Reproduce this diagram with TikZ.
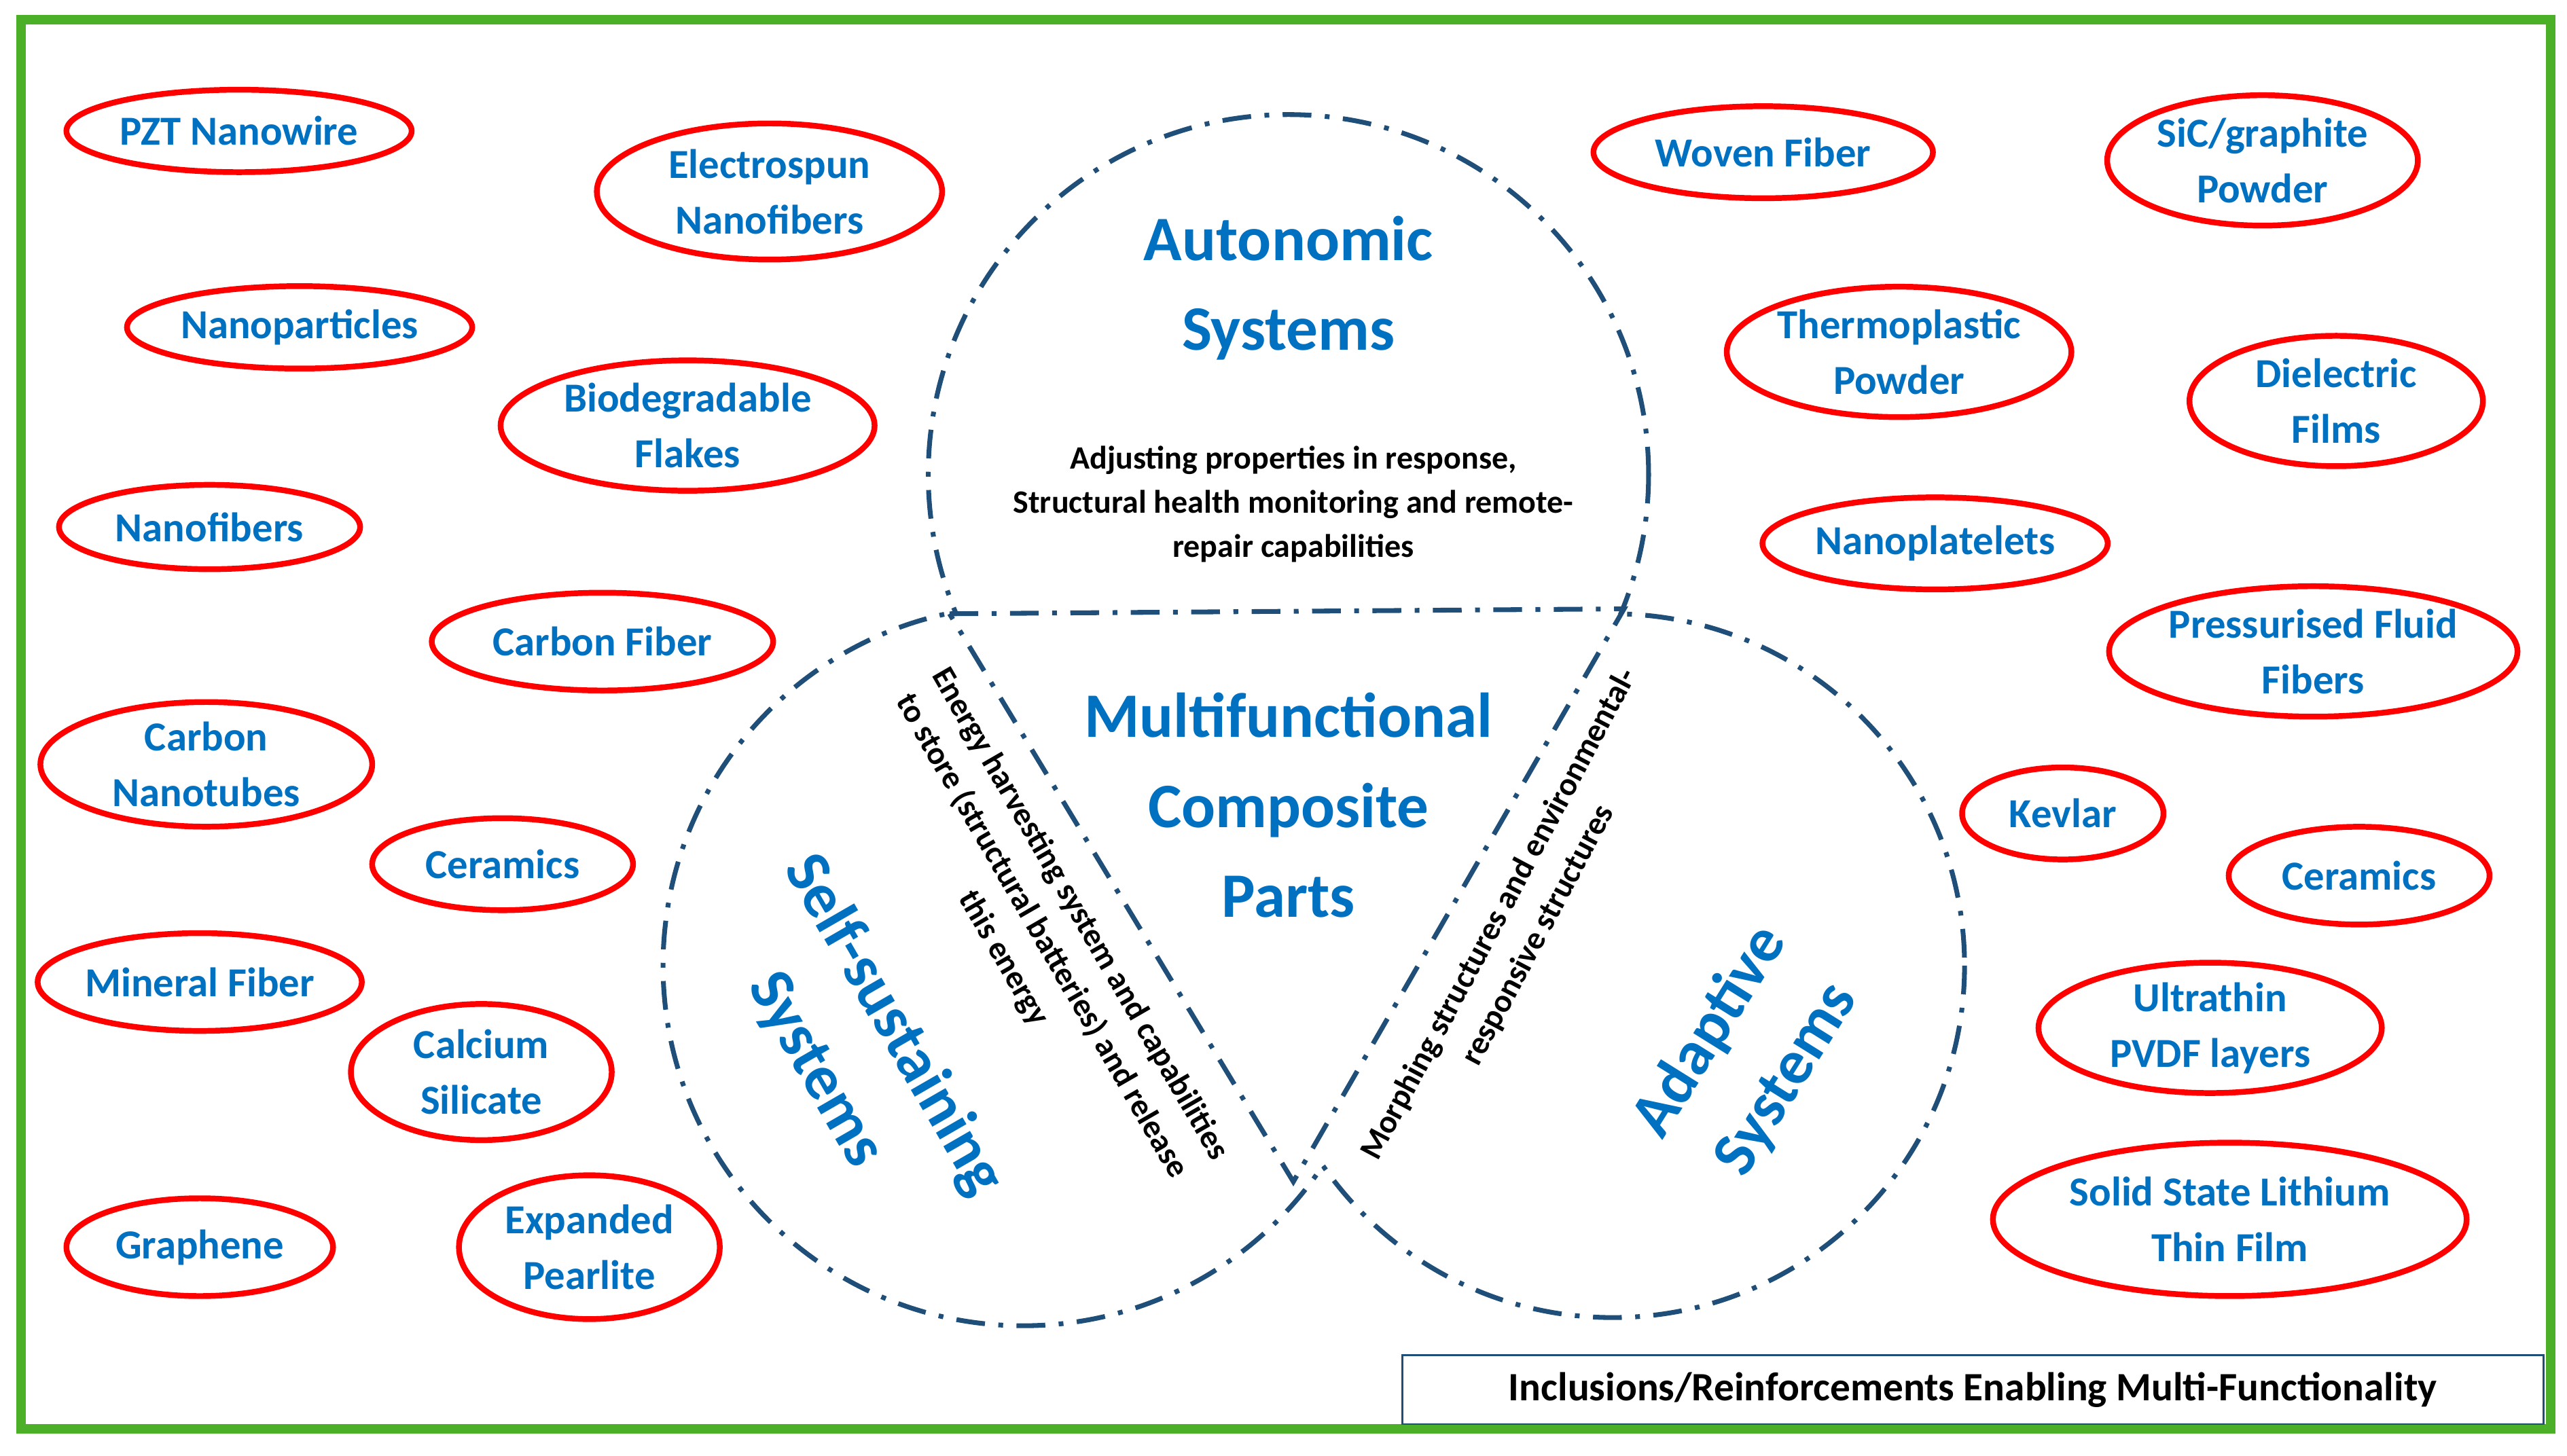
\documentclass[tikz,border=0pt]{standalone}
\usepackage{fontspec}
\setmainfont{Carlito}
\usetikzlibrary{shapes.geometric}
\definecolor{tblue}{RGB}{0,112,192}
\definecolor{dblue}{RGB}{31,78,121}
\definecolor{gborder}{RGB}{76,175,40}
\begin{document}
\begin{tikzpicture}[x=0.03cm,y=-0.03cm,
 inc/.style={draw=red,line width=3pt,ellipse,inner sep=0pt,text=tblue,font=\bfseries\fontsize{21.5}{29}\selectfont,align=center},
 venn/.style={draw=dblue,line width=2.5pt,dash pattern=on 15pt off 7pt on 2.5pt off 7pt},
 big/.style={text=tblue,font=\bfseries\fontsize{33}{47}\selectfont,align=center},
 small/.style={text=black,font=\bfseries\fontsize{17}{23}\selectfont,align=center}]
\useasboundingbox (0,0) rectangle (1568,889.2);
\draw[gborder,line width=5pt] (13,12) rectangle (1558,873);
% venn outer arcs
\begin{scope}[even odd rule]
 \clip (0,0) rectangle (1568,889) (625,590) circle[radius=220];
 \begin{scope}[even odd rule]
 \clip (0,0) rectangle (1568,889) (985,590) circle[radius=215];
 \draw[venn] (787,290) circle[radius=220];
 \end{scope}
\end{scope}
\begin{scope}[even odd rule]
 \clip (0,0) rectangle (1568,889) (787,290) circle[radius=220];
 \begin{scope}[even odd rule]
 \clip (0,0) rectangle (1568,889) (985,590) circle[radius=215];
 \draw[venn] (625,590) circle[radius=220];
 \end{scope}
\end{scope}
\begin{scope}[even odd rule]
 \clip (0,0) rectangle (1568,889) (787,290) circle[radius=220];
 \begin{scope}[even odd rule]
 \clip (0,0) rectangle (1568,889) (625,590) circle[radius=220];
 \draw[venn] (985,590) circle[radius=215];
 \end{scope}
\end{scope}
\coordinate (t1) at (580,375);
\coordinate (t2) at (992,372);
\coordinate (t3) at (790,722);
\draw[venn] (t1) -- (t2) -- (t3) -- cycle;
% texts
\node[big] (auto) at (787,176) {Autonomic\\Systems};
\node[small] (autot) at (790,308) {Adjusting properties in response,\\Structural health monitoring and remote-\\repair capabilities};
\node[big] (multi) at (787,492) {Multifunctional\\Composite\\Parts};
\node[big,rotate=-60] (self) at (522,640) {Self-sustaining\\Systems};
\node[small,rotate=-60] (selft) at (636,572) {Energy harvesting system and capabilities\\to store (structural batteries) and release\\this energy};
\node[big,rotate=58] (adapt) at (1068,645) {Adaptive\\Systems};
\node[small,rotate=62] (adaptt) at (928,565) {Morphing structures and environmental-\\responsive structures};
% inclusions
\begin{scope}[inc/.append style={}]
\node[inc,minimum width=180,minimum height=43] (e1) at (146,80) {PZT Nanowire};
\node[inc,minimum width=180,minimum height=71] (e2) at (470,117) {Electrospun\\Nanofibers};
\node[inc,minimum width=180,minimum height=43] (e3) at (183,200) {Nanoparticles};
\node[inc,minimum width=195,minimum height=68] (e4) at (420,260) {Biodegradable\\Flakes};
\node[inc,minimum width=157,minimum height=44] (e5) at (128,322) {Nanofibers};
\node[inc,minimum width=178,minimum height=51] (e6) at (368,392) {Carbon Fiber};
\node[inc,minimum width=173,minimum height=65] (e7) at (126,467) {Carbon\\Nanotubes};
\node[inc,minimum width=136,minimum height=48] (e8) at (307,528) {Ceramics};
\node[inc,minimum width=158,minimum height=51] (e9) at (122,600) {Mineral Fiber};
\node[inc,minimum width=136,minimum height=71] (e10) at (294,655) {Calcium\\Silicate};
\node[inc,minimum width=139,minimum height=51] (e11) at (122,762) {Graphene};
\node[inc,minimum width=136,minimum height=75] (e12) at (360,762) {Expanded\\Pearlite};
\node[inc,minimum width=177,minimum height=48] (e13) at (1077,93) {Woven Fiber};
\node[inc,minimum width=162,minimum height=68] (e14) at (1382,98) {SiC/graphite\\Powder};
\node[inc,minimum width=179,minimum height=68] (e15) at (1160,215) {Thermoplastic\\Powder};
\node[inc,minimum width=153,minimum height=68] (e16) at (1427,245) {Dielectric\\Films};
\node[inc,minimum width=180,minimum height=48] (e17) at (1182,332) {Nanoplatelets};
\node[inc,minimum width=204,minimum height=68] (e18) at (1413,398) {Pressurised Fluid\\Fibers};
\node[inc,minimum width=105,minimum height=48] (e19) at (1260,497) {Kevlar};
\node[inc,minimum width=136,minimum height=51] (e20) at (1441,535) {Ceramics};
\node[inc,minimum width=179,minimum height=68] (e21) at (1350,628) {Ultrathin\\PVDF layers};
\node[inc,minimum width=247,minimum height=80] (e22) at (1362,745) {Solid State Lithium\\Thin Film};
\end{scope}
% legend
\node[draw=dblue,line width=1pt,minimum width=595,minimum height=36,inner sep=0pt,font=\bfseries\fontsize{21}{24}\selectfont] (leg) at (1205,849) {Inclusions/Reinforcements Enabling Multi-Functionality};
\end{tikzpicture}
\end{document}
